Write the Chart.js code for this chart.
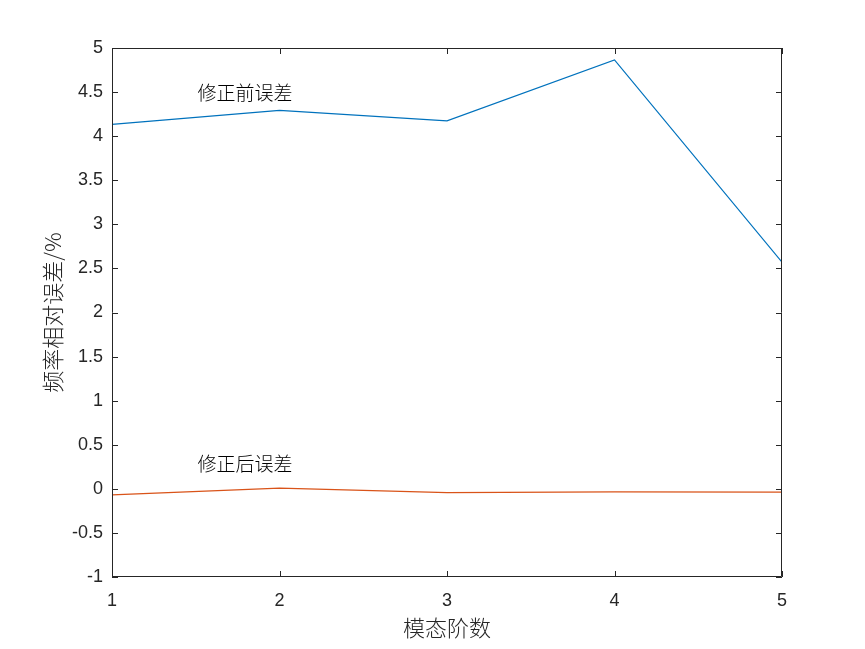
<!DOCTYPE html>
<html>
<head>
<meta charset="utf-8">
<script src="https://cdn.jsdelivr.net/npm/chart.js@4/dist/chart.umd.min.js"></script>
<style>
  html, body { margin: 0; padding: 0; background: #fff; }
  #wrap { width: 865px; height: 649px; }
</style>
</head>
<body>
<div id="wrap"><canvas id="errChart" width="865" height="649"></canvas></div>
<script>
const modes = [1, 2, 3, 4, 5];
const beforeErr = [4.133, 4.292, 4.174, 4.864, 2.572];
const afterErr = [-0.068, 0.008, -0.042, -0.034, -0.038];
const labelTexts = ['修正前误差', '修正后误差'];
const labelX = [1.51, 1.51];
const labelY = [4.49, 0.28];

const axisColor = '#262626';
const fontFamily = '"Liberation Sans", Arial, sans-serif';
const cjkFamily = '"Noto Sans CJK SC", sans-serif';

// MATLAB style: inward ticks on all four sides + box
const boxTicks = {
  id: 'boxTicks',
  afterDraw(chart) {
    const { ctx, chartArea: a, scales } = chart;
    const len = 6;
    ctx.save();
    ctx.strokeStyle = axisColor;
    ctx.lineWidth = 1;
    ctx.beginPath();
    ctx.rect(a.left + 0.5, a.top + 0.5, a.right - a.left - 1, a.bottom - a.top - 1);
    scales.x.ticks.forEach(t => {
      const px = Math.round(scales.x.getPixelForValue(t.value)) + 0.5;
      ctx.moveTo(px, a.bottom); ctx.lineTo(px, a.bottom - len);
      ctx.moveTo(px, a.top); ctx.lineTo(px, a.top + len);
    });
    scales.y.ticks.forEach(t => {
      const py = Math.round(scales.y.getPixelForValue(t.value)) + 0.5;
      ctx.moveTo(a.left, py); ctx.lineTo(a.left + len, py);
      ctx.moveTo(a.right, py); ctx.lineTo(a.right - len, py);
    });
    ctx.stroke();

    ctx.fillStyle = '#000';
    ctx.font = '300 19px ' + cjkFamily;
    ctx.textAlign = 'left';
    ctx.textBaseline = 'middle';
    labelTexts.forEach((txt, i) => {
      ctx.fillText(txt, scales.x.getPixelForValue(labelX[i]), scales.y.getPixelForValue(labelY[i]));
    });
    ctx.restore();
  }
};

new Chart(document.getElementById('errChart').getContext('2d'), {
  type: 'line',
  data: {
    datasets: [
      {
        label: labelTexts[0],
        data: modes.map((m, i) => ({ x: m, y: beforeErr[i] })),
        borderColor: '#0072BD',
        borderWidth: 1.2,
        pointRadius: 0,
        tension: 0
      },
      {
        label: labelTexts[1],
        data: modes.map((m, i) => ({ x: m, y: afterErr[i] })),
        borderColor: '#D95319',
        borderWidth: 1.2,
        pointRadius: 0,
        tension: 0
      }
    ]
  },
  options: {
    responsive: false,
    animation: false,
    layout: { padding: { top: 48, right: 83, left: 0, bottom: 0 } },
    plugins: {
      legend: { display: false },
      tooltip: { enabled: false }
    },
    scales: {
      x: {
        type: 'linear',
        min: 1,
        max: 5,
        afterFit(scale) { scale.height = 72; },
        ticks: {
          stepSize: 1,
          color: axisColor,
          padding: 13,
          font: { family: fontFamily, size: 18 },
          callback: v => String(v)
        },
        grid: { display: false, drawTicks: false },
        border: { display: false },
        title: {
          display: true,
          text: '模态阶数',
          color: axisColor,
          padding: { top: 0, bottom: 8 },
          font: { family: cjkFamily, size: 22, weight: '300' }
        }
      },
      y: {
        min: -1,
        max: 5,
        afterFit(scale) { scale.width = 112; },
        ticks: {
          stepSize: 0.5,
          color: axisColor,
          padding: 9,
          font: { family: fontFamily, size: 18 },
          callback: v => String(Math.round(v * 10) / 10)
        },
        grid: { display: false, drawTicks: false },
        border: { display: false },
        title: {
          display: true,
          text: '频率相对误差/%',
          color: axisColor,
          padding: { top: 39, bottom: 0 },
          font: { family: cjkFamily, size: 22, weight: '300' }
        }
      }
    }
  },
  plugins: [boxTicks]
});
</script>
</body>
</html>
